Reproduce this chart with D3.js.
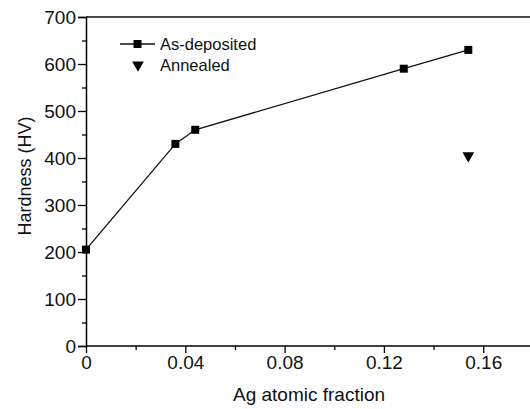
<html lang="en">
<head>
  <meta charset="UTF-8">
  <title>Hardness vs Ag fraction</title>
  <script src="https://cdn.jsdelivr.net/npm/d3@7"></script>
  <style>
    body { margin: 0; background: #fff; }
    text { font-family: "Liberation Sans", Arial, sans-serif; fill: #111; }
  </style>
</head>
<body>
  <svg width="530" height="409"></svg>

  <script>
    // data
    const agFraction = [0, 0.036, 0.044, 0.128, 0.154];
    const hardnessDeposited = [205, 430, 460, 590, 630];
    const agAnnealed = [0.154];
    const hardnessAnnealed = [405];
    const xTicks = [0, 0.04, 0.08, 0.12, 0.16];
    const yTicks = [0, 100, 200, 300, 400, 500, 600, 700];

    const svg = d3.select("svg");

    // plot frame
    const plotLeft = 86, plotTop = 17, plotBottom = 346;
    const x = d3.scaleLinear().domain([0, 0.18]).range([plotLeft, plotLeft + 0.18 / 0.04 * 99.3]);
    const y = d3.scaleLinear().domain([0, 700]).range([plotBottom, plotTop]);

    // top border line
    svg.append("line")
      .attr("x1", plotLeft).attr("x2", 530)
      .attr("y1", plotTop).attr("y2", plotTop)
      .attr("stroke", "#111").attr("stroke-width", 1.5);

    // minor ticks
    svg.append("g")
      .attr("transform", `translate(0,${plotBottom})`)
      .call(d3.axisBottom(x).tickValues(d3.range(0.02, 0.18, 0.04)).tickSize(4).tickFormat(""))
      .call(g => g.select(".domain").remove())
      .selectAll("line").attr("stroke-width", 1.3);
    svg.append("g")
      .attr("transform", `translate(${plotLeft},0)`)
      .call(d3.axisLeft(y).tickValues(d3.range(50, 700, 100)).tickSize(4).tickFormat(""))
      .call(g => g.select(".domain").remove())
      .selectAll("line").attr("stroke-width", 1.3);

    // x axis
    const xAxis = svg.append("g")
      .attr("transform", `translate(0,${plotBottom})`)
      .call(d3.axisBottom(x).tickValues(xTicks).tickSize(7).tickPadding(3)
        .tickFormat(d => d === 0 ? "0" : d3.format(".2f")(d)));
    xAxis.select(".domain").attr("d", `M${plotLeft},0H530`).attr("stroke-width", 1.5);
    xAxis.selectAll("line").attr("stroke-width", 1.3);
    xAxis.selectAll("text").attr("font-size", 19);

    // y axis
    const yAxis = svg.append("g")
      .attr("transform", `translate(${plotLeft},0)`)
      .call(d3.axisLeft(y).tickValues(yTicks).tickSize(8).tickPadding(2));
    yAxis.select(".domain").attr("stroke-width", 1.5);
    yAxis.selectAll("line").attr("stroke-width", 1.3);
    yAxis.selectAll("text").attr("font-size", 19);

    // axis titles
    svg.append("text")
      .attr("x", 309).attr("y", 401)
      .attr("text-anchor", "middle")
      .attr("font-size", 19)
      .text("Ag atomic fraction");
    svg.append("text")
      .attr("transform", "translate(31,176) rotate(-90)")
      .attr("text-anchor", "middle")
      .attr("font-size", 18)
      .text("Hardness (HV)");

    // as-deposited series
    const pts = agFraction.map((d, i) => [d, hardnessDeposited[i]]);
    svg.append("path")
      .datum(pts)
      .attr("fill", "none")
      .attr("stroke", "#111")
      .attr("stroke-width", 1.3)
      .attr("d", d3.line().x(d => x(d[0])).y(d => y(d[1])));
    svg.selectAll(".sq")
      .data(pts)
      .join("path")
      .attr("class", "sq")
      .attr("transform", d => `translate(${x(d[0])},${y(d[1])})`)
      .attr("d", d3.symbol(d3.symbolSquare, 64))
      .attr("fill", "#000");

    // annealed
    const tri = d3.symbol(d3.symbolTriangle, 60)();
    svg.selectAll(".tri")
      .data(agAnnealed.map((d, i) => [d, hardnessAnnealed[i]]))
      .join("path")
      .attr("class", "tri")
      .attr("transform", d => `translate(${x(d[0])},${y(d[1])}) rotate(180)`)
      .attr("d", tri)
      .attr("fill", "#000");

    // legend
    const lg = svg.append("g");
    lg.append("line").attr("x1", 120).attr("x2", 155).attr("y1", 44).attr("y2", 44)
      .attr("stroke", "#111").attr("stroke-width", 1.3);
    lg.append("path").attr("transform", "translate(137.5,44)")
      .attr("d", d3.symbol(d3.symbolSquare, 64)).attr("fill", "#000");
    lg.append("text").attr("x", 160).attr("y", 50).attr("font-size", 16.5).text("As-deposited");
    lg.append("path").attr("transform", "translate(138,65) rotate(180)")
      .attr("d", tri).attr("fill", "#000");
    lg.append("text").attr("x", 160).attr("y", 71).attr("font-size", 16.5).text("Annealed");
  </script>
</body>
</html>
